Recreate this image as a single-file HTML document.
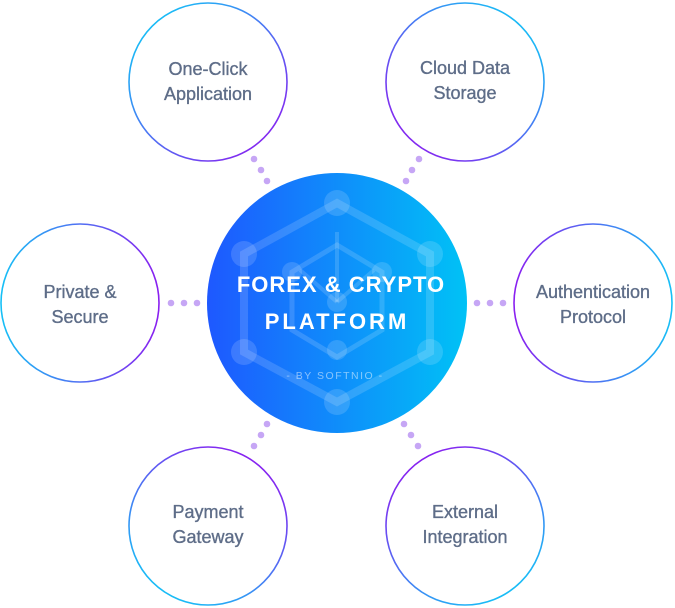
<!DOCTYPE html>
<html><head><meta charset="utf-8"><style>
html,body{margin:0;padding:0;background:#fff;width:675px;height:608px;overflow:hidden}
svg{display:block}
.t{font-family:"Liberation Sans",sans-serif;font-size:18px;fill:#5e6d88;text-anchor:middle;stroke:#5e6d88;stroke-width:0.35}
</style></head><body>
<svg width="675" height="608" viewBox="0 0 675 608" xmlns="http://www.w3.org/2000/svg">
<defs>
<linearGradient id="cg" x1="0" y1="0" x2="1" y2="0"><stop offset="0" stop-color="#1e58ff"/><stop offset="1" stop-color="#00c2f6"/></linearGradient>
<linearGradient id="g1" gradientUnits="userSpaceOnUse" x1="150" y1="20" x2="270" y2="150"><stop offset="0" stop-color="#16c0f6"/><stop offset="1" stop-color="#8a1ff0"/></linearGradient>
<linearGradient id="g2" gradientUnits="userSpaceOnUse" x1="525" y1="20" x2="405" y2="150"><stop offset="0" stop-color="#16c0f6"/><stop offset="1" stop-color="#8a1ff0"/></linearGradient>
<linearGradient id="g3" gradientUnits="userSpaceOnUse" x1="1" y1="303" x2="159" y2="303"><stop offset="0" stop-color="#16c0f6"/><stop offset="1" stop-color="#8a1ff0"/></linearGradient>
<linearGradient id="g4" gradientUnits="userSpaceOnUse" x1="672" y1="303" x2="514" y2="303"><stop offset="0" stop-color="#16c0f6"/><stop offset="1" stop-color="#8a1ff0"/></linearGradient>
<linearGradient id="g5" gradientUnits="userSpaceOnUse" x1="170" y1="600" x2="260" y2="460"><stop offset="0" stop-color="#16c0f6"/><stop offset="1" stop-color="#8a1ff0"/></linearGradient>
<linearGradient id="g6" gradientUnits="userSpaceOnUse" x1="503" y1="600" x2="413" y2="460"><stop offset="0" stop-color="#16c0f6"/><stop offset="1" stop-color="#8a1ff0"/></linearGradient>
</defs>
<g fill="none" stroke-width="1.6">
<circle cx="208" cy="82" r="79" stroke="url(#g1)"/>
<circle cx="465" cy="82" r="79" stroke="url(#g2)"/>
<circle cx="80" cy="303" r="79" stroke="url(#g3)"/>
<circle cx="593" cy="303" r="79" stroke="url(#g4)"/>
<circle cx="208" cy="526" r="79" stroke="url(#g5)"/>
<circle cx="465" cy="526" r="79" stroke="url(#g6)"/>
</g>
<g fill="#c6a6f5">
<circle cx="254" cy="159" r="3.3"/><circle cx="261" cy="170" r="3.3"/><circle cx="267" cy="181" r="3.3"/>
<circle cx="419" cy="159" r="3.3"/><circle cx="412" cy="170" r="3.3"/><circle cx="406" cy="181" r="3.3"/>
<circle cx="171" cy="303" r="3.3"/><circle cx="184" cy="303" r="3.3"/><circle cx="197" cy="303" r="3.3"/>
<circle cx="477" cy="303" r="3.3"/><circle cx="490" cy="303" r="3.3"/><circle cx="503" cy="303" r="3.3"/>
<circle cx="267" cy="424" r="3.3"/><circle cx="261" cy="435" r="3.3"/><circle cx="254" cy="446" r="3.3"/>
<circle cx="404" cy="424" r="3.3"/><circle cx="411" cy="435" r="3.3"/><circle cx="418" cy="446" r="3.3"/>
</g>
<circle cx="337" cy="303" r="130" fill="url(#cg)"/>
<g stroke="#ffffff" stroke-opacity="0.15" stroke-width="8" fill="none">
<polygon points="337,203 430,254 430,352 337,402 244,352 244,254"/>
<polygon points="337,245 382,272 382,330 337,357 292,330 292,272" stroke-width="5"/>
<line x1="337" y1="232" x2="337" y2="302" stroke-width="4"/>
<line x1="337" y1="302" x2="300" y2="270" stroke-width="4"/>
<line x1="337" y1="302" x2="374" y2="270" stroke-width="4"/>
</g>
<g fill="#ffffff" fill-opacity="0.15">
<circle cx="337" cy="203" r="13"/><circle cx="430" cy="254" r="13"/><circle cx="430" cy="352" r="13"/>
<circle cx="337" cy="402" r="13"/><circle cx="244" cy="352" r="13"/><circle cx="244" cy="254" r="13"/>
<circle cx="337" cy="302" r="10"/><circle cx="292" cy="272" r="10"/><circle cx="382" cy="272" r="10"/><circle cx="337" cy="350" r="10"/>
</g>
<text x="341" y="292" font-family="Liberation Sans,sans-serif" font-weight="bold" font-size="22" fill="#fff" text-anchor="middle" letter-spacing="1">FOREX &amp; CRYPTO</text>
<text x="337" y="329" font-family="Liberation Sans,sans-serif" font-weight="bold" font-size="22" fill="#fff" text-anchor="middle" letter-spacing="3">PLATFORM</text>
<text x="335" y="379" font-family="Liberation Sans,sans-serif" font-size="10.5" fill="#fff" fill-opacity="0.5" text-anchor="middle" letter-spacing="1.5">- BY SOFTNIO -</text>
<text class="t" x="208" y="75">One-Click</text><text class="t" x="208" y="100">Application</text>
<text class="t" x="465" y="74">Cloud Data</text><text class="t" x="465" y="99">Storage</text>
<text class="t" x="80" y="298">Private &amp;</text><text class="t" x="80" y="323">Secure</text>
<text class="t" x="593" y="298">Authentication</text><text class="t" x="593" y="323">Protocol</text>
<text class="t" x="208" y="518">Payment</text><text class="t" x="208" y="543">Gateway</text>
<text class="t" x="465" y="518">External</text><text class="t" x="465" y="543">Integration</text>
</svg>
</body></html>
